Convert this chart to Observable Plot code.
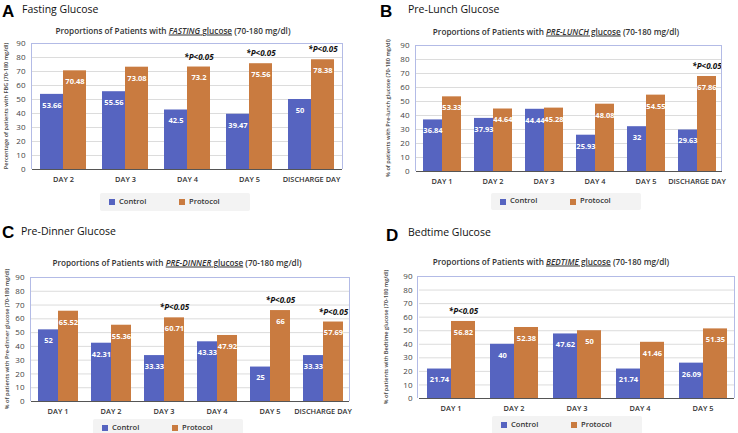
<!DOCTYPE html>
<html><head><meta charset="utf-8">
<script src="https://cdn.jsdelivr.net/npm/d3@7"></script>
<script src="https://cdn.jsdelivr.net/npm/@observablehq/plot@0.6"></script>
<style>
body{margin:0;background:#fff;}
#page{position:relative;width:738px;height:433px;overflow:hidden;font-family:"Open Sans",sans-serif;color:#222;}
.abs{position:absolute;white-space:nowrap;}
.c{transform:translate(-50%,-50%);}
.letter{font-family:"Liberation Sans",Arial,sans-serif;font-weight:700;font-size:17px;color:#000;line-height:1;}
.head{font-size:10.5px;color:#111;line-height:1;}
.title{font-size:8.2px;font-weight:600;color:#333;}
.ylab{font-size:5.6px;font-weight:600;color:#444;transform:translate(-50%,-50%) rotate(-90deg);}
.frame{position:absolute;border:1px solid #b3bbe6;border-bottom:none;box-sizing:border-box;pointer-events:none;}
.legend{position:absolute;background:#f3f3f3;border-radius:2px;font-size:7.6px;font-weight:600;color:#333;}
.legend span.sw{position:absolute;width:6px;height:6px;}
.legend span.t{position:absolute;line-height:1;}
svg{position:absolute;overflow:visible;}
</style></head><body><div id="page"></div>
<script>
// ---------- data ----------
const series = ["Control", "Protocol"];
const colors = ["#5664c0", "#c97b40"];
const sigText = "*P<0.05";

const daysA = ["DAY 2", "DAY 3", "DAY 4", "DAY 5", "DISCHARGE DAY"];
const controlA = [53.66, 55.56, 42.5, 39.47, 50];
const protocolA = [70.48, 73.08, 73.2, 75.56, 78.38];
const sigA = ["DAY 4", "DAY 5", "DISCHARGE DAY"];

const daysB = ["DAY 1", "DAY 2", "DAY 3", "DAY 4", "DAY 5", "DISCHARGE DAY"];
const controlB = [36.84, 37.93, 44.44, 25.93, 32, 29.63];
const protocolB = [53.33, 44.64, 45.28, 48.08, 54.55, 67.86];
const sigB = ["DISCHARGE DAY"];

const daysC = ["DAY 1", "DAY 2", "DAY 3", "DAY 4", "DAY 5", "DISCHARGE DAY"];
const controlC = [52, 42.31, 33.33, 43.33, 25, 33.33];
const protocolC = [65.52, 55.36, 60.71, 47.92, 66, 57.69];
const sigC = ["DAY 3", "DAY 5", "DISCHARGE DAY"];

const daysD = ["DAY 1", "DAY 2", "DAY 3", "DAY 4", "DAY 5"];
const controlD = [21.74, 40, 47.62, 21.74, 26.09];
const protocolD = [56.82, 52.38, 50, 41.46, 51.35];
const sigD = ["DAY 1"];

const yTicks = [0, 10, 20, 30, 40, 50, 60, 70, 80, 90];

// ---------- layout ----------
const panels = [
  {letter: "A", head: "Fasting Glucose", kw: "FASTING", ylab: "Percentage of patients with FBG (70-180 mg/dl)",
   days: daysA, control: controlA, protocol: protocolA, sig: sigA,
   lx: 2, ly: 3, hx: 22, hy: 4, tx: 173, ty: 30,
   px: 31, py: 43, pw: 312, ph: 126, pad: 0.33, ylx: 6, lg: [100, 193, 150, 18]},
  {letter: "B", head: "Pre-Lunch Glucose", kw: "PRE-LUNCH", ylab: "% of patients with Pre-lunch glucose (70-180 mg/dl)",
   days: daysB, control: controlB, protocol: protocolB, sig: sigB,
   lx: 380, ly: 3, hx: 408, hy: 4, tx: 556, ty: 31,
   px: 415, py: 45, pw: 307, ph: 126, pad: 0.3, ylx: 388, lg: [491, 193, 150, 17]},
  {letter: "C", head: "Pre-Dinner Glucose", kw: "PRE-DINNER", ylab: "% of patients with Pre-dinner glucose (70-180 mg/dl)",
   days: daysC, control: controlC, protocol: protocolC, sig: sigC,
   lx: 2, ly: 224, hx: 21, hy: 226, tx: 177, ty: 262,
   px: 30, py: 277, pw: 320, ph: 124, pad: 0.3, ylx: 7, lg: [93, 419, 150, 18]},
  {letter: "D", head: "Bedtime Glucose", kw: "BEDTIME", ylab: "% of patients with Bedtime glucose (70-180 mg/dl)",
   days: daysD, control: controlD, protocol: protocolD, sig: sigD,
   lx: 386, ly: 227, hx: 408, hy: 227, tx: 551, ty: 261,
   px: 417, py: 276, pw: 318, ph: 122, pad: 0.3, ylx: 386, lg: [492, 416, 150, 18]}
];

const page = document.getElementById("page");
function el(cls, html, style) {
  const d = document.createElement("div");
  d.className = cls;
  d.innerHTML = html;
  Object.assign(d.style, style);
  page.appendChild(d);
  return d;
}

const mT = 5, mB = 20, mL = 30, mR = 3;

for (const P of panels) {
  el("abs letter", P.letter, {left: P.lx + "px", top: P.ly + "px"});
  el("abs head", P.head, {left: P.hx + "px", top: P.hy + "px"});
  el("abs c title", `Proportions of Patients with <u><i>${P.kw}</i> glucose</u> (70-180 mg/dl)`,
     {left: P.tx + "px", top: P.ty + "px"});
  el("abs ylab", P.ylab, {left: P.ylx + "px", top: (P.py + P.ph / 2) + "px"});

  const rows = P.days.flatMap((d, i) => [
    {day: d, series: series[0], value: P.control[i]},
    {day: d, series: series[1], value: P.protocol[i]}
  ]);
  const sigRows = rows.filter(r => r.series === series[1] && P.sig.includes(r.day));

  const svg = Plot.plot({
    width: mL + P.pw + mR, height: mT + P.ph + mB,
    marginLeft: mL, marginRight: mR, marginTop: mT, marginBottom: mB,
    style: {fontFamily: "'Open Sans', sans-serif", background: "transparent", overflow: "visible"},
    fx: {domain: P.days, padding: 0, label: null},
    x: {domain: series, paddingInner: 0, paddingOuter: P.pad, axis: null},
    y: {domain: [0, 90], label: null},
    color: {domain: series, range: colors},
    marks: [
      Plot.gridY(yTicks, {stroke: "#dcdcdc", strokeOpacity: 1}),
      Plot.axisY(yTicks, {tickSize: 0, tickPadding: 7, fontSize: 8, fill: "#444", label: null}),
      Plot.axisFx({anchor: "bottom", tickSize: 0, tickPadding: 7, fontSize: 7.4, fontWeight: 600, fill: "#333", label: null}),
      Plot.barY(rows, {fx: "day", x: "series", y: "value", fill: "series"}),
      Plot.ruleY([0], {stroke: "#555", strokeWidth: 1.2}),
      Plot.text(rows, {fx: "day", x: "series", y: "value", text: d => String(d.value), dy: 11,
        fill: "white", fontWeight: 700, fontSize: 7.5}),
      Plot.text(sigRows, {fx: "day", x: "series", y: "value", text: () => sigText, dy: -10,
        fill: "#111", fontWeight: 700, fontStyle: "italic", fontSize: 8})
    ]
  });
  svg.style.left = (P.px - mL) + "px";
  svg.style.top = (P.py - mT) + "px";
  page.appendChild(svg);

  el("frame", "", {left: P.px + "px", top: P.py + "px", width: P.pw + "px", height: P.ph + "px"});

  const [gx, gy, gw, gh] = P.lg;
  const lg = el("legend", "", {left: gx + "px", top: gy + "px", width: gw + "px", height: gh + "px"});
  series.forEach((s, i) => {
    const sw = document.createElement("span");
    sw.className = "sw";
    Object.assign(sw.style, {left: (9 + i * 70) + "px", top: (gh / 2 - 3) + "px", background: colors[i]});
    lg.appendChild(sw);
    const t = document.createElement("span");
    t.className = "t";
    t.textContent = s;
    Object.assign(t.style, {left: (19 + i * 70) + "px", top: (gh / 2 - 4.5) + "px"});
    lg.appendChild(t);
  });
}
</script></body></html>
